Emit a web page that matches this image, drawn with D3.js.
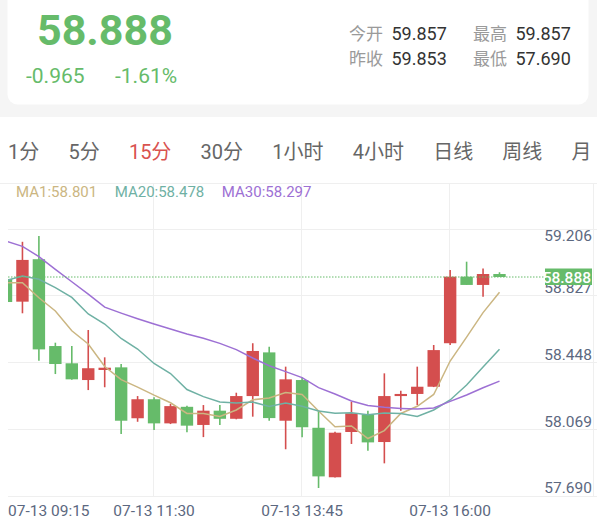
<!DOCTYPE html>
<html>
<head>
<meta charset="utf-8">
<script src="https://cdn.jsdelivr.net/npm/d3@7"></script>
<style>
  body { margin: 0; background: #fff; }
  svg { display: block; font-family: Roboto, "Noto Sans CJK SC", sans-serif; }
</style>
</head>
<body>
<svg id="chart"></svg>
<script>
// header quote
const lastPrice = 58.888;
const change = -0.965;
const changePct = -1.61;
const statLabels = ['今开', '昨收', '最高', '最低'];
const statValues = [59.857, 59.853, 59.857, 57.690];

// period tabs
const tabs = ['1分', '5分', '15分', '30分', '1小时', '4小时', '日线', '周线', '月'];
const activeTab = '15分';

// 15 min candles
const opens  = [58.877, 58.748, 58.989, 58.496, 58.398, 58.303, 58.360, 58.375, 58.086, 58.194, 58.057, 58.151, 58.048, 58.129, 58.083, 58.212,
                58.460, 58.072, 58.303, 58.032, 57.751, 58.008, 58.108, 57.951, 58.212, 58.224, 58.265, 58.512, 58.890, 58.843, 58.905];
const highs  = [58.894, 59.088, 59.121, 58.515, 58.496, 58.587, 58.432, 58.394, 58.212, 58.205, 58.167, 58.157, 58.161, 58.161, 58.231, 58.512,
                58.492, 58.379, 58.318, 58.133, 58.010, 58.180, 58.129, 58.341, 58.242, 58.379, 58.502, 58.928, 58.975, 58.937, 58.915];
const lows   = [58.735, 58.682, 58.413, 58.337, 58.305, 58.246, 58.262, 57.996, 58.066, 58.019, 58.053, 58.006, 57.979, 58.048, 58.080, 58.095,
                58.072, 57.910, 57.978, 57.690, 57.749, 57.940, 57.902, 57.830, 58.129, 58.161, 58.263, 58.502, 58.843, 58.776, 58.888];
const closes = [58.746, 58.985, 58.477, 58.394, 58.307, 58.370, 58.373, 58.072, 58.194, 58.057, 58.155, 58.044, 58.129, 58.083, 58.212, 58.468,
                58.087, 58.307, 58.035, 57.756, 58.004, 58.114, 57.949, 58.212, 58.224, 58.265, 58.473, 58.890, 58.843, 58.905, 58.888];

// moving averages
const ma1  = [58.856, 58.856, 58.770, 58.695, 58.583, 58.508, 58.380, 58.305, 58.263, 58.217, 58.174, 58.113, 58.113, 58.096, 58.133, 58.191,
              58.201, 58.232, 58.221, 58.127, 58.038, 58.042, 57.971, 58.016, 58.113, 58.154, 58.221, 58.411, 58.547, 58.686, 58.801];
const ma20 = [58.868, 58.894, 58.875, 58.828, 58.772, 58.678, 58.621, 58.539, 58.479, 58.397, 58.340, 58.249, 58.209, 58.178, 58.172, 58.178,
              58.153, 58.172, 58.154, 58.127, 58.114, 58.117, 58.106, 58.116, 58.113, 58.096, 58.133, 58.190, 58.275, 58.377, 58.478];
const ma30 = [59.092, 59.062, 59.004, 58.931, 58.861, 58.791, 58.717, 58.683, 58.651, 58.621, 58.593, 58.564, 58.540, 58.511, 58.476, 58.428,
              58.384, 58.351, 58.317, 58.260, 58.224, 58.184, 58.159, 58.148, 58.142, 58.138, 58.144, 58.182, 58.218, 58.259, 58.297];
const maNames = ['MA1', 'MA20', 'MA30'];

// axes
const yTicks = [59.206, 58.827, 58.448, 58.069, 57.690];
const xLabels = ['07-13 09:15', '07-13 11:30', '07-13 13:45', '07-13 16:00'];
const xLabelIdx = [0, 9, 18, 27];

const W = 597, H = 526;
const red = '#d44e4e', green = '#66bb6a';
const maColors = ['#cbb682', '#6fb1a4', '#9d70d4'];
const axisColor = '#5c6880';
const gridColor = '#efefef';
const plot = {left: 8, right: 593, top: 183, bottom: 496};

const svg = d3.select('#chart').attr('width', W).attr('height', H);

// ---- header card
svg.append('rect').attr('width', W).attr('height', 117).attr('fill', '#f5f5f5');
svg.append('rect')
    .attr('x', 7.5).attr('y', -12).attr('width', 581).attr('height', 116.5)
    .attr('rx', 10).attr('fill', '#fff');

svg.append('text')
    .attr('x', 37).attr('y', 45)
    .attr('font-size', 43).attr('font-weight', 700)
    .attr('fill', green)
    .text(lastPrice.toFixed(3));

svg.append('text')
    .attr('x', 26).attr('y', 82.5)
    .attr('font-size', 21).attr('fill', green)
    .text(change.toFixed(3));
svg.append('text')
    .attr('x', 115).attr('y', 82.5)
    .attr('font-size', 21).attr('fill', green)
    .text(changePct.toFixed(2) + '%');

statLabels.forEach((lab, i) => {
  const col = Math.floor(i / 2), row = i % 2;
  const x0 = 349 + col * 124, y0 = 40 + row * 24.5;
  svg.append('text').attr('x', x0).attr('y', y0)
      .attr('font-size', 17).attr('fill', '#9a9a9a').text(lab);
  svg.append('text').attr('x', x0 + 42.5).attr('y', y0)
      .attr('font-size', 18).attr('fill', '#333').text(statValues[i].toFixed(3));
});

// ---- tabs
let tx = 8;
tabs.forEach(t => {
  const el = svg.append('text')
      .attr('x', tx).attr('y', 159)
      .attr('font-size', 20)
      .attr('fill', t === activeTab ? '#d9534f' : '#666')
      .text(t);
  tx += el.node().getComputedTextLength() + 29.2;
});

// ---- scales
const x = d3.scaleLinear().domain([0, closes.length - 1]).range([6, 499.5]);
const y = d3.scaleLinear().domain([57.690, 59.206]).range([488, 221]);
const bodyW = 12.4;

// grid
const grid = svg.append('g');
grid.append('line')
    .attr('x1', 0).attr('x2', W).attr('y1', plot.top + 0.5).attr('y2', plot.top + 0.5)
    .attr('stroke', gridColor);
grid.selectAll('.hgrid').data(yTicks).join('line')
    .attr('class', 'hgrid')
    .attr('x1', plot.left).attr('x2', W)
    .attr('y1', d => Math.round(y(d) + 7.5) + 0.5)
    .attr('y2', d => Math.round(y(d) + 7.5) + 0.5)
    .attr('stroke', gridColor);
grid.selectAll('.vgrid').data(xLabelIdx.slice(1)).join('line')
    .attr('class', 'vgrid')
    .attr('x1', d => Math.round(x(d)) - 0.5).attr('x2', d => Math.round(x(d)) - 0.5)
    .attr('y1', plot.top).attr('y2', plot.bottom)
    .attr('stroke', gridColor);
grid.append('line')
    .attr('x1', plot.right + 0.5).attr('x2', plot.right + 0.5)
    .attr('y1', plot.top).attr('y2', plot.bottom)
    .attr('stroke', gridColor);

// MA legend
let lx = 16;
maNames.forEach((n, i) => {
  const series = [ma1, ma20, ma30][i];
  const el = svg.append('text')
      .attr('x', lx).attr('y', 196.5)
      .attr('font-size', 15).attr('fill', maColors[i])
      .text(`${n}:${series[series.length - 1].toFixed(3)}`);
  lx += el.node().getComputedTextLength() + 17.5;
});

svg.append('clipPath').attr('id', 'clip')
  .append('rect')
    .attr('x', plot.left).attr('y', plot.top)
    .attr('width', plot.right - plot.left).attr('height', plot.bottom - plot.top);

const chart = svg.append('g').attr('clip-path', 'url(#clip)');

const candles = d3.range(closes.length).map(i => ({
  i, o: opens[i], h: highs[i], l: lows[i], c: closes[i]
}));
const col = d => d.c >= d.o ? red : green;

// wicks
chart.selectAll('.wick').data(candles).join('line')
    .attr('class', 'wick')
    .attr('x1', d => x(d.i)).attr('x2', d => x(d.i))
    .attr('y1', d => y(d.h)).attr('y2', d => y(d.l))
    .attr('stroke', col).attr('stroke-width', 1.6);

// bodies
chart.selectAll('.body').data(candles).join('rect')
    .attr('class', 'body')
    .attr('x', d => x(d.i) - bodyW / 2)
    .attr('width', bodyW)
    .attr('y', d => y(Math.max(d.o, d.c)))
    .attr('height', d => Math.max(1.5, Math.abs(y(d.o) - y(d.c))))
    .attr('fill', col);

// MA lines
const line = d3.line().x((d, i) => x(i)).y(d => y(d));
[ma1, ma20, ma30].forEach((s, i) => {
  chart.append('path')
      .datum(s)
      .attr('d', line)
      .attr('fill', 'none')
      .attr('stroke', maColors[i])
      .attr('stroke-width', 1.5);
});

// last price line
const py = y(lastPrice);
svg.append('line')
    .attr('x1', plot.left).attr('x2', 545)
    .attr('y1', py).attr('y2', py)
    .attr('stroke', green).attr('stroke-width', 1)
    .attr('stroke-dasharray', '1.5,1.5');

// y axis labels
svg.selectAll('.ylab').data(yTicks).join('text')
    .attr('class', 'ylab')
    .attr('x', 592)
    .attr('y', d => Math.max(y(d), 236))
    .attr('dy', '0.35em')
    .attr('text-anchor', 'end')
    .attr('font-size', 15.5)
    .attr('fill', axisColor)
    .text(d => d.toFixed(3));

// price tag
svg.append('rect')
    .attr('x', 545).attr('y', py - 8.5)
    .attr('width', 47).attr('height', 16.5)
    .attr('fill', green);
svg.append('text')
    .attr('x', 591).attr('y', py)
    .attr('dy', '0.36em')
    .attr('text-anchor', 'end')
    .attr('font-size', 15.5).attr('font-weight', 500)
    .attr('fill', '#fff')
    .text(lastPrice.toFixed(3));

// x axis labels
xLabels.forEach((t, k) => {
  const cx = x(xLabelIdx[k]);
  const el = svg.append('text')
      .attr('y', 516)
      .attr('font-size', 15.5)
      .attr('fill', axisColor)
      .text(t);
  const w = el.node().getComputedTextLength();
  el.attr('x', Math.max(plot.left, cx - w / 2));
});
</script>
</body>
</html>
